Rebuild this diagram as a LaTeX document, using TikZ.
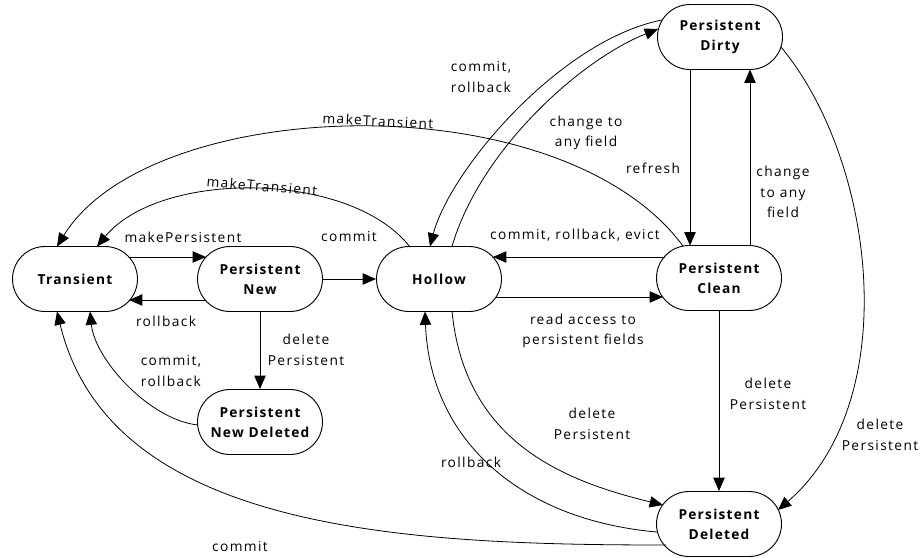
\documentclass[tikz,border=0pt]{standalone}
\usepackage{fontspec}
\setmainfont{Open Sans}
\newfontfamily\lblfont{Open Sans}[LetterSpace=10]
\newfontfamily\statefont{Open Sans}[LetterSpace=9]
\usetikzlibrary{arrows.meta,shapes.misc}
\begin{document}
\begin{tikzpicture}[x=0.75pt,y=-0.75pt,
  state/.style={rounded rectangle, draw, line width=0.7pt, fill=white,
    minimum width=93.75pt, minimum height=48.75pt, inner sep=0pt,
    align=center, font=\statefont\fontsize{10.3}{14.8}\selectfont\bfseries},
  lbl/.style={align=center, font=\lblfont\fontsize{10.3}{15.5}\selectfont, inner sep=0pt},
  tr/.style={-{Triangle[length=10pt,width=8.5pt]}, line width=0.6pt},
]
\path[use as bounding box] (0,0) rectangle (920,557);

% states
\node[state] (T)  at (75,279)  {Transient};
\node[state] (N)  at (260,279) {Persistent\\New};
\node[state] (H)  at (439,279) {Hollow};
\node[state] (C)  at (719,278) {Persistent\\Clean};
\node[state] (D)  at (720,37)  {Persistent\\Dirty};
\node[state] (ND) at (260,422) {Persistent\\New Deleted};
\node[state] (DL) at (719,524) {Persistent\\Deleted};

% transitions along the middle row
\draw[tr] ([shift={(54,-22)}]T.center) -- ([shift={(-54,-22)}]N.center);
\draw[tr] ([shift={(-54,21)}]N.center) -- ([shift={(54,21)}]T.center);
\draw[tr] (N.east) -- (H.west);
\draw[tr] ([shift={(57,18)}]H.center) -- ([shift={(-56,19)}]C.center);
\draw[tr] ([shift={(-54,-21)}]C.center) -- ([shift={(54,-22)}]H.center);

% clean / dirty / deleted
\draw[tr] ([shift={(-30,32.5)}]D.center) -- ([shift={(-29,-32.5)}]C.center);
\draw[tr] ([shift={(31,-32.5)}]C.center) -- ([shift={(30,32.5)}]D.center);
\draw[tr] (C.south) -- (DL.north);
\draw[tr] ([shift={(61,10)}]D.center) .. controls (875,160) and (905,400) .. ([shift={(59,-14)}]DL.center);

% hollow <-> dirty
\draw[tr] ([shift={(13,-32.5)}]H.center) .. controls (480,150) and (580,60) .. ([shift={(-62,-8)}]D.center);
\draw[tr] ([shift={(-58,-17)}]D.center) .. controls (560,40) and (450,170) .. ([shift={(-9,-32.5)}]H.center);

% makeTransient arcs
\draw[tr] ([shift={(-36,-32)}]C.center) .. controls (560,80) and (150,95) .. ([shift={(-18,-32.5)}]T.center);
\draw[tr] ([shift={(-29,-32)}]H.center) .. controls (350,170) and (160,170) .. ([shift={(22,-32.5)}]T.center);

% new -> new deleted -> transient
\draw[tr] (N.south) -- (ND.north);
\draw[tr] ([shift={(-62,3)}]ND.center) .. controls (150,420) and (95,360) .. ([shift={(15,32.5)}]T.center);

% deleted -> transient
\draw[tr] ([shift={(-53,21)}]DL.center) .. controls (400,545) and (110,530) .. ([shift={(-18,32.5)}]T.center);

% hollow <-> deleted
\draw[tr] ([shift={(13,32.5)}]H.center) .. controls (465,440) and (560,480) .. ([shift={(-56,-19)}]DL.center);
\draw[tr] ([shift={(-62,8)}]DL.center) .. controls (520,520) and (430,440) .. ([shift={(-14,32.5)}]H.center);

% labels
\node[lbl] (lMP)  at (183,237) {makePersistent};
\node[lbl] (lRB1) at (166,321) {rollback};
\node[lbl] (lCM1) at (349,237) {commit};
\node[lbl] (lRA)  at (583,331) {read access to\\persistent fields};
\node[lbl] (lCRE) at (575,235) {commit, rollback, evict};
\node[lbl] (lRF)  at (653,168) {refresh};
\node[lbl] (lCA2) at (783,192) {change\\to any\\field};
\node[lbl] (lDP1) at (768,394) {delete\\Persistent};
\node[lbl] (lDP2) at (880,435) {delete\\Persistent};
\node[lbl] (lCA1) at (586,133) {change to\\any field};
\node[lbl,align=left] (lCR1) at (481,77) {commit,\\rollback};
\node[lbl,rotate=-3] (lMT1) at (378,121) {makeTransient};
\node[lbl,rotate=-5] (lMT2) at (262,186) {makeTransient};
\node[lbl] (lDP3) at (306,350) {delete\\Persistent};
\node[lbl,align=left] (lCR2) at (171,371) {commit,\\rollback};
\node[lbl] (lCM2) at (240,547) {commit};
\node[lbl] (lDP4) at (592,424) {delete\\Persistent};
\node[lbl] (lRB2) at (471,462) {rollback};
\end{tikzpicture}
\end{document}
